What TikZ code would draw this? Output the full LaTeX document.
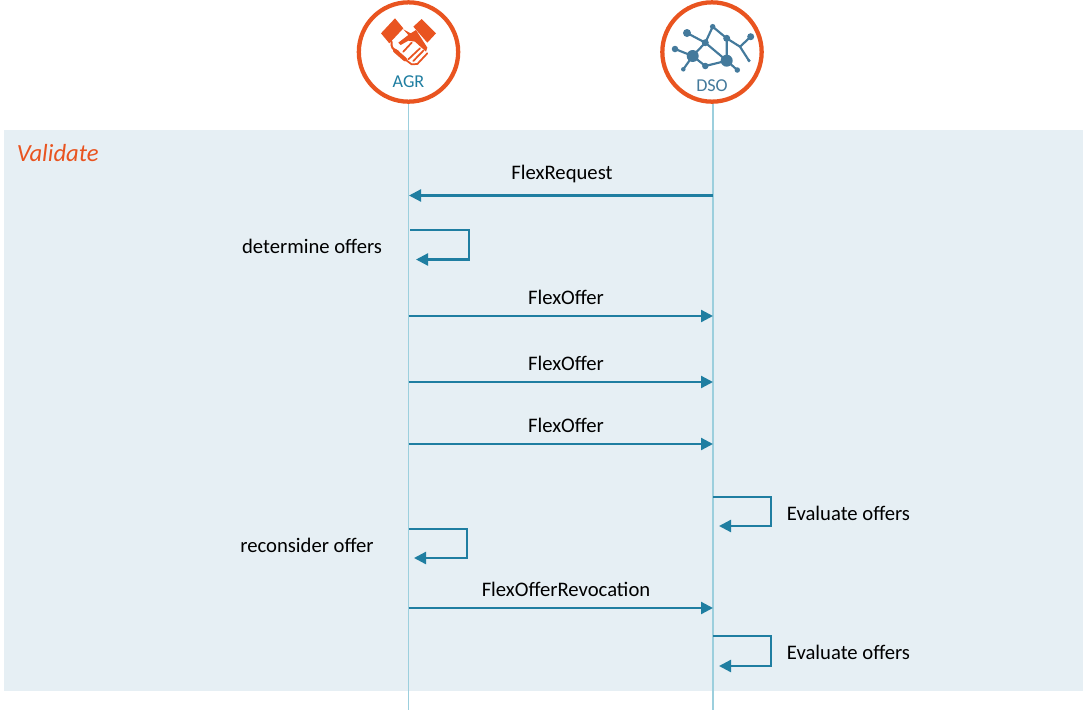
\documentclass[tikz,border=0pt]{standalone}
\usepackage{fontspec}
\setmainfont{Carlito}
\usetikzlibrary{arrows.meta}
\definecolor{bandbg}{HTML}{E6EFF4}
\definecolor{flowblue}{HTML}{1F7EA1}
\definecolor{lifeblue}{HTML}{9CCFDD}
\definecolor{accent}{HTML}{E95420}
\definecolor{netblue}{HTML}{447A9C}
\tikzset{
  x=0.75pt,y=-0.75pt,
  actor/.style={circle,draw=accent,line width=3.2pt,fill=white,minimum size=74.5pt,inner sep=0pt},
  life/.style={draw=lifeblue,line width=0.8pt},
  msg/.style={draw=flowblue,line width=1.7pt,-{Triangle[length=9pt,width=9pt]}},
  lbl/.style={font=\fontsize{15.5pt}{18pt}\selectfont,text=black,inner sep=0pt,anchor=base},
  actorcap/.style={font=\fontsize{13.6pt}{16pt}\selectfont,inner sep=0pt,anchor=base},
  netline/.style={draw=netblue,line width=1.6pt},
  handline/.style={draw=accent,line cap=round,line join=round}
}
\begin{document}
\begin{tikzpicture}
\useasboundingbox (0,0) rectangle (1083,711);
\fill[bandbg] (4,130) rectangle (1083,691);
\coordinate (agrtop) at (408.5,52);
\coordinate (dsotop) at (713,52);
\coordinate (agrend) at (408.5,710);
\coordinate (dsoend) at (713,710);
\draw[life] (agrtop) -- (agrend);
\draw[life] (dsotop) -- (dsoend);
\node[actor] (agr) at (408.5,52) {};
\node[actor] (dso) at (712,52) {};
\node[actorcap,text=flowblue] (agrl) at (408.5,87) {AGR};
\node[actorcap,text=netblue] (dsol) at (712,91) {DSO};
\node[font=\fontsize{18.5pt}{20pt}\selectfont\itshape,text=accent,inner sep=0pt,anchor=base west] (val) at (16.5,161) {Validate};
% handshake
\begin{scope}[shift={(340,0)},x=0.25pt,y=-0.25pt]
\fill[accent] (123,100) -- (165,55) -- (190,85) -- (148,130) -- cycle;
\fill[accent] (220,80) -- (245,57) -- (288,100) -- (262,128) -- cycle;
\fill[accent] (190,88) -- (212,100) -- (228,90) -- (262,143) -- (258,155) -- (225,125) -- (205,122) -- (182,135) -- (175,128) -- (205,105) -- cycle;
\draw[handline,line width=1.5pt] (155,125) .. controls (152,140) and (158,150) .. (175,155);
\draw[handline,line width=3pt] (165,152) -- (195,178);
\draw[handline,line width=1.3pt] (195,178) -- (215,193) -- (232,192) -- (262,160);
\draw[handline,line width=1.3pt] (205,178) -- (240,145) (220,183) -- (250,152) (190,155) -- (215,128);
\end{scope}
% network
\coordinate (na) at (687,33); \coordinate (nb) at (705.3,42.7); \coordinate (nc) at (712.7,26.7);
\coordinate (nd) at (726.7,38.3); \coordinate (ne) at (750.7,36.7); \coordinate (nf) at (740,46.7);
\coordinate (ng) at (749,60.7); \coordinate (nh) at (675,49); \coordinate (ni) at (692.7,56);
\coordinate (nj) at (683.3,69.3); \coordinate (nk) at (705.3,66); \coordinate (nl) at (726.7,60.7);
\coordinate (nm) at (737.3,70);
\draw[netline] (na)--(nb) (nb)--(nc) (nc)--(nd) (nd)--(nf) (nf)--(ne) (nf)--(ng) (nb)--(nl) (nb)--(ni) (nh)--(ni) (ni)--(nj) (ni)--(nk) (nk)--(nl) (nl)--(nd) (nl)--(nm);
\foreach \p/\d in {na/8,nb/7,nc/5.5,nd/7,ne/7,ng/3.5,nh/6.5,ni/12,nj/4.5,nk/6.5,nl/12,nm/5.5}
  \fill[netblue] (\p) ++(-\d*0.375pt,0) arc[start angle=180,end angle=-180,radius=\d*0.375pt];
% messages
\foreach \n/\y/\t in {a/316/FlexOffer,b/382/FlexOffer,c/444/FlexOffer,d/608/FlexOfferRevocation}{
  \coordinate (s\n) at (408.5,\y); \coordinate (e\n) at (713,\y);
  \draw[msg] (s\n) -- (e\n);
  \node[lbl] (m\n) at (566,\y-12) {\t};
}
\coordinate (sr) at (713,195.5); \coordinate (er) at (409,195.5);
\draw[msg] (sr) -- (er);
\node[lbl] (lr) at (562,179) {FlexRequest};
% self loops
\coordinate (l1a) at (410,230); \coordinate (l1b) at (469,230); \coordinate (l1c) at (469,259.5); \coordinate (l1d) at (416,259.5);
\draw[msg] (l1a) -- (l1b) -- (l1c) -- (l1d);
\node[lbl] (t1) at (312,253) {determine offers};
\coordinate (l2a) at (408.5,529); \coordinate (l2b) at (467,529); \coordinate (l2c) at (467,558); \coordinate (l2d) at (414,558);
\draw[msg] (l2a) -- (l2b) -- (l2c) -- (l2d);
\node[lbl] (t2) at (307,552) {reconsider offer};
\coordinate (l3a) at (713,497); \coordinate (l3b) at (771,497); \coordinate (l3c) at (771,526); \coordinate (l3d) at (719,526);
\draw[msg] (l3a) -- (l3b) -- (l3c) -- (l3d);
\node[lbl] (t3) at (848.5,520) {Evaluate offers};
\coordinate (l4a) at (713,636); \coordinate (l4b) at (771,636); \coordinate (l4c) at (771,666); \coordinate (l4d) at (719,666);
\draw[msg] (l4a) -- (l4b) -- (l4c) -- (l4d);
\node[lbl] (t4) at (848.5,659) {Evaluate offers};
\end{tikzpicture}
\end{document}
